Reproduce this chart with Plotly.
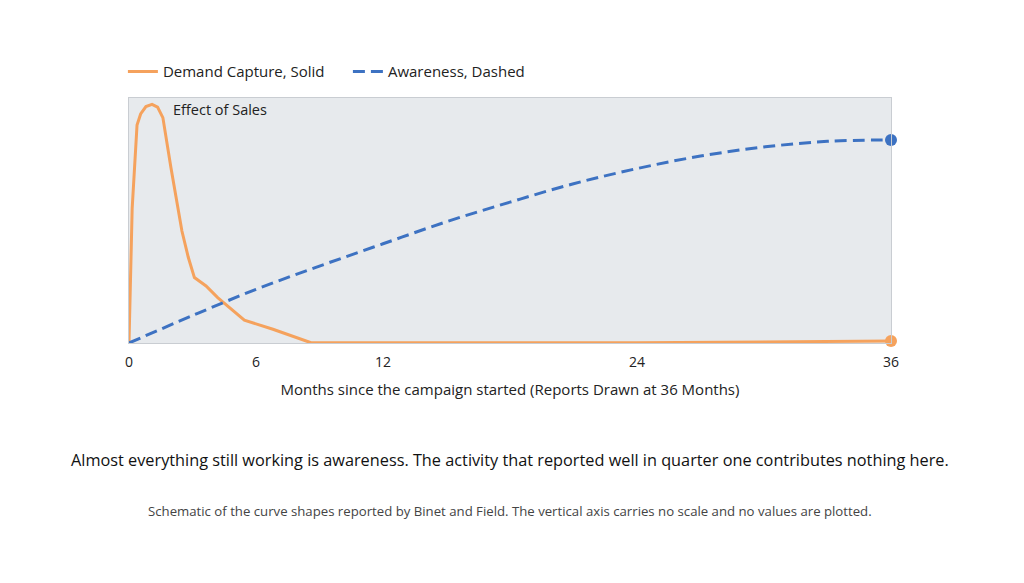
import plotly.graph_objects as go

# schematic curve shapes (no real scale)
demand_months = [0, 0.15, 0.38, 0.55, 0.8, 1.09, 1.35, 1.6, 1.98, 2.3, 2.5, 2.8,
                 3.09, 3.64, 4.19, 5.45, 6.8, 8.6, 24, 36]
demand_values = [0, 55, 89, 93.5, 96.5, 97.4, 96.3, 92, 71.6, 56, 45.7, 35,
                 26.7, 23.3, 18.5, 9.3, 5.6, 0.1, 0.1, 0.8]

awareness_months = [0, 3, 6, 9, 12, 15, 18, 21, 24, 27, 30, 33, 36]
awareness_values = [0, 11.2, 21.9, 31.4, 40.5, 49.5, 57.5, 65, 71.2, 76.3, 80, 82.3, 82.9]

tick_months = [0, 6, 12, 24, 36]

ORANGE = "#f5a25d"
BLUE = "#3d72c2"
FONT = "Open Sans"

fig = go.Figure()
fig.add_trace(go.Scatter(
    x=demand_months, y=demand_values, mode="lines",
    name="Demand Capture, Solid",
    line=dict(color=ORANGE, width=3),
))
fig.add_trace(go.Scatter(
    x=awareness_months, y=awareness_values, mode="lines",
    name="Awareness, Dashed", line_shape="spline",
    line=dict(color=BLUE, width=3, dash="12px,6px"),
))
# end-point markers at the reporting date
fig.add_trace(go.Scatter(
    x=[demand_months[-1]], y=[demand_values[-1]], mode="markers",
    marker=dict(color=ORANGE, size=12), showlegend=False, cliponaxis=False,
))
fig.add_trace(go.Scatter(
    x=[awareness_months[-1]], y=[awareness_values[-1]], mode="markers",
    marker=dict(color=BLUE, size=12), showlegend=False, cliponaxis=False,
))

fig.add_annotation(
    x=2.0, y=95.5, xref="x", yref="y", text="Effect of Sales",
    showarrow=False, xanchor="left", yanchor="middle",
    font=dict(size=14.5, color="#222"),
)
fig.add_annotation(
    x=0.5, y=-0.478, xref="paper", yref="paper", yanchor="middle",
    text="Almost everything still working is awareness. The activity that reported well in quarter one contributes nothing here.",
    showarrow=False, font=dict(size=16.3, color="#111"),
)
fig.add_annotation(
    x=0.5, y=-0.686, xref="paper", yref="paper", yanchor="middle",
    text="Schematic of the curve shapes reported by Binet and Field. The vertical axis carries no scale and no values are plotted.",
    showarrow=False, font=dict(size=13.2, color="#444"),
)

fig.update_layout(
    width=1024, height=583,
    margin=dict(l=121, r=141, t=90, b=248, autoexpand=False),
    paper_bgcolor="white", plot_bgcolor="#e7eaed",
    font=dict(family=FONT, color="#222"),
    showlegend=True,
    legend=dict(
        orientation="h", x=-0.008, xanchor="left", y=1.04, yanchor="bottom",
        font=dict(size=15, color="#222"), bgcolor="rgba(0,0,0,0)",
        entrywidth=180, entrywidthmode="pixels",
    ),
)
fig.update_xaxes(
    range=[0, 36], tickvals=tick_months, ticktext=[str(t) for t in tick_months],
    showgrid=False, zeroline=False, showline=True, linecolor="#c9cdd2",
    mirror=True, ticks="outside", ticklen=6, tickcolor="rgba(0,0,0,0)",
    tickfont=dict(size=14, color="#222"),
    title=dict(text="Months since the campaign started (Reports Drawn at 36 Months)",
               font=dict(size=15, color="#222"), standoff=14),
)
fig.update_yaxes(
    range=[0, 100], showticklabels=False, showgrid=False, zeroline=False,
    showline=True, linecolor="#c9cdd2", mirror=True, ticks="",
)

fig.write_html("out.html")
